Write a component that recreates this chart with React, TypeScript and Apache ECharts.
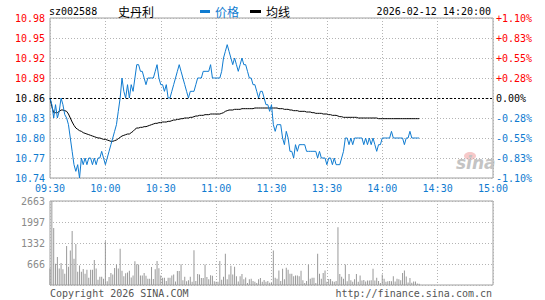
import React, { useEffect, useRef } from "react";
import * as echarts from "echarts";

const stockCode = "sz002588";
const stockName = "史丹利";
const timestamp = "2026-02-12 14:20:00";
const prevClose = 10.86;
const timeLabels = ["09:30", "10:00", "10:30", "11:00", "11:30", "13:30", "14:00", "14:30", "15:00"];

const price = [
  10.86, 10.85, 10.83, 10.85, 10.83, 10.84, 10.86, 10.85, 10.835, 10.83,
  10.82, 10.80, 10.78, 10.76, 10.75, 10.76, 10.74, 10.77, 10.76, 10.77,
  10.76, 10.77, 10.77, 10.76, 10.77, 10.76, 10.77, 10.77, 10.78, 10.77,
  10.76, 10.77, 10.78, 10.79, 10.80, 10.81, 10.82, 10.84, 10.86, 10.89,
  10.87, 10.86, 10.88, 10.86, 10.88, 10.87, 10.89, 10.91, 10.91, 10.90,
  10.90, 10.89, 10.88, 10.89, 10.89, 10.89, 10.89, 10.90, 10.91, 10.89,
  10.88, 10.88, 10.87, 10.88, 10.86, 10.86, 10.87, 10.88, 10.89, 10.90,
  10.91, 10.90, 10.89, 10.88, 10.87, 10.86, 10.87, 10.87, 10.87, 10.88,
  10.89, 10.89, 10.89, 10.90, 10.90, 10.90, 10.90, 10.91, 10.89, 10.89,
  10.89, 10.89, 10.89, 10.90, 10.92, 10.93, 10.94, 10.93, 10.92, 10.91,
  10.92, 10.91, 10.90, 10.91, 10.92, 10.91, 10.91, 10.90, 10.89, 10.89,
  10.88, 10.88, 10.87, 10.86, 10.87, 10.87, 10.86, 10.85, 10.85, 10.84,
  10.85, 10.82, 10.81, 10.82, 10.82, 10.82, 10.80, 10.79, 10.81, 10.80,
  10.78, 10.78, 10.77, 10.79, 10.78, 10.79, 10.79, 10.79, 10.79, 10.78,
  10.78, 10.78, 10.78, 10.78, 10.78, 10.77, 10.78, 10.77, 10.77, 10.77,
  10.76, 10.77, 10.77, 10.76, 10.77, 10.76, 10.76, 10.76, 10.77, 10.78,
  10.80, 10.80, 10.79, 10.80, 10.79, 10.80, 10.80, 10.80, 10.80, 10.80,
  10.79, 10.80, 10.79, 10.80, 10.79, 10.80, 10.79, 10.78, 10.79, 10.79,
  10.80, 10.80, 10.80, 10.80, 10.80, 10.81, 10.80, 10.80, 10.80, 10.80,
  10.80, 10.80, 10.79, 10.80, 10.80, 10.81, 10.80, 10.80, 10.80, 10.80,
  10.80,
];

const avgPrice = [
  10.860, 10.847, 10.838, 10.838, 10.838, 10.840, 10.842, 10.842, 10.841, 10.840,
  10.836, 10.830, 10.824, 10.819, 10.815, 10.813, 10.811, 10.810, 10.808, 10.807,
  10.806, 10.805, 10.804, 10.803, 10.802, 10.801, 10.800, 10.800, 10.799, 10.798,
  10.798, 10.797, 10.796, 10.795, 10.795, 10.796, 10.797, 10.799, 10.801, 10.803,
  10.804, 10.805, 10.806, 10.806, 10.808, 10.810, 10.813, 10.815, 10.815, 10.816,
  10.816, 10.817, 10.817, 10.818, 10.819, 10.820, 10.821, 10.822, 10.822, 10.823,
  10.823, 10.824, 10.824, 10.824, 10.825, 10.825, 10.826, 10.827, 10.827, 10.828,
  10.828, 10.829, 10.829, 10.830, 10.830, 10.830, 10.831, 10.831, 10.832, 10.833,
  10.833, 10.834, 10.834, 10.834, 10.835, 10.835, 10.835, 10.836, 10.836, 10.836,
  10.836, 10.836, 10.836, 10.837, 10.838, 10.840, 10.841, 10.842, 10.842, 10.842,
  10.843, 10.843, 10.843, 10.843, 10.844, 10.844, 10.844, 10.844, 10.844, 10.844,
  10.844, 10.845, 10.845, 10.845, 10.845, 10.845, 10.845, 10.845, 10.845, 10.845,
  10.845, 10.845, 10.845, 10.845, 10.844, 10.844, 10.844, 10.843, 10.843, 10.843,
  10.842, 10.842, 10.841, 10.841, 10.841, 10.840, 10.840, 10.840, 10.840, 10.839,
  10.839, 10.839, 10.838, 10.838, 10.837, 10.837, 10.837, 10.837, 10.836, 10.836,
  10.836, 10.835, 10.835, 10.834, 10.834, 10.834, 10.833, 10.832, 10.832, 10.831,
  10.831, 10.831, 10.831, 10.831, 10.831, 10.831, 10.831, 10.830, 10.830, 10.830,
  10.830, 10.830, 10.830, 10.830, 10.830, 10.830, 10.830, 10.830, 10.829, 10.829,
  10.829, 10.829, 10.829, 10.829, 10.829, 10.829, 10.829, 10.829, 10.829, 10.829,
  10.829, 10.829, 10.829, 10.829, 10.829, 10.829, 10.829, 10.829, 10.829, 10.829,
  10.829,
];

const volume = [
  526, 2663, 1810, 670, 890, 520, 700, 500, 360, 1240,
  580, 1090, 1710, 830, 1300, 420, 620, 420, 510, 360,
  480, 230, 480, 480, 790, 520, 170, 260, 260, 200,
  1390, 120, 250, 380, 330, 540, 650, 520, 1150, 450,
  280, 370, 400, 450, 240, 300, 750, 660, 650, 300,
  300, 380, 290, 200, 200, 570, 190, 500, 760, 530,
  300, 230, 230, 130, 230, 230, 300, 330, 110, 440,
  440, 660, 150, 260, 120, 150, 260, 100, 1100, 130,
  350, 330, 220, 220, 650, 250, 180, 310, 290, 120,
  100, 100, 760, 170, 260, 990, 180, 330, 610, 330,
  580, 280, 110, 280, 350, 180, 240, 60, 180, 200,
  130, 100, 60, 180, 220, 100, 160, 100, 130, 70,
  60, 1090, 230, 200, 460, 130, 515, 180, 550, 480,
  360, 360, 280, 300, 300, 280, 450, 150, 60, 130,
  640, 200, 230, 230, 60, 990, 360, 200, 380, 460,
  100, 190, 190, 120, 100, 130, 1830, 350, 260, 200,
  650, 120, 350, 150, 100, 180, 350, 100, 300, 140,
  160, 110, 140, 140, 150, 515, 140, 230, 130, 60,
  330, 200, 100, 120, 130, 120, 280, 110, 200, 180,
  150, 380, 460, 270, 80, 220, 70, 110, 110, 50,
  40,
];

const volumeMax = 2663;

const BLUE = "#0f7bd0";
const RED = "#ff0000";
const MONO = "DejaVu Sans Mono";
const CJK = "Noto Sans CJK SC";

export default function App() {
  const ref = useRef<HTMLDivElement>(null);

  useEffect(() => {
    if (!ref.current) return;
    const chart = echarts.init(ref.current, null, { renderer: "svg" });

    const dotted = { show: true, lineStyle: { color: "#b4b4b4", type: [1, 2] as any, width: 1 } };
    const gridL = 50;
    const gridR = 52;

    const option: any = {
      animation: false,
      backgroundColor: "#ffffff",
      grid: [
        { left: gridL, right: gridR, top: 18, height: 160, show: true, borderColor: "#a0a0a0", borderWidth: 1, backgroundColor: "transparent" },
        { left: gridL, right: gridR, top: 201, height: 84, show: true, borderColor: "#a0a0a0", borderWidth: 1, backgroundColor: "transparent" },
      ],
      xAxis: [
        {
          type: "value", gridIndex: 0, min: 0, max: 240, interval: 30,
          axisLine: { show: false }, axisTick: { show: false },
          splitLine: dotted,
          axisLabel: {
            margin: 5, color: BLUE, fontSize: 10, fontFamily: MONO,
            formatter: (v: number) => timeLabels[Math.round(v / 30)] ?? "",
          },
        },
        {
          type: "value", gridIndex: 1, min: 0, max: 240, interval: 30,
          axisLine: { show: false }, axisTick: { show: false },
          splitLine: dotted, axisLabel: { show: false },
        },
      ],
      yAxis: [
        {
          type: "value", gridIndex: 0, min: 10.74, max: 10.98, interval: 0.03,
          axisLine: { show: false }, axisTick: { show: false },
          splitLine: dotted,
          axisLabel: {
            margin: 5, fontSize: 10, fontFamily: MONO,
            formatter: (v: number) => {
              const s = v.toFixed(2);
              if (Math.abs(v - prevClose) < 0.001) return "{k|" + s + "}";
              return (v > prevClose ? "{r|" : "{b|") + s + "}";
            },
            rich: {
              r: { color: RED, fontSize: 10, fontFamily: MONO },
              b: { color: BLUE, fontSize: 10, fontFamily: MONO },
              k: { color: "#000", fontSize: 10, fontFamily: MONO },
            },
          },
        },
        {
          type: "value", gridIndex: 0, min: 10.74, max: 10.98, interval: 0.03, position: "right",
          axisLine: { show: false }, axisTick: { show: false }, splitLine: { show: false },
          axisLabel: {
            margin: 3, fontSize: 10, fontFamily: MONO,
            formatter: (v: number) => {
              const d = ((v - prevClose) / prevClose) * 100;
              if (Math.abs(d) < 0.001) return "{k|0.00%}";
              return d > 0 ? "{r|+" + d.toFixed(2) + "%}" : "{b|-" + Math.abs(d).toFixed(2) + "%}";
            },
            rich: {
              r: { color: RED, fontSize: 10, fontFamily: MONO },
              b: { color: BLUE, fontSize: 10, fontFamily: MONO },
              k: { color: "#000", fontSize: 10, fontFamily: MONO },
            },
          },
        },
        {
          type: "value", gridIndex: 1, min: 0, max: volumeMax, interval: volumeMax / 4,
          axisLine: { show: false }, axisTick: { show: false },
          splitLine: dotted,
          axisLabel: {
            margin: 5, fontSize: 10, fontFamily: MONO, color: "#8a8a8a",
            formatter: (v: number) => (v === 0 ? "" : String(Math.round(v))),
          },
        },
      ],
      series: [
        {
          type: "line", xAxisIndex: 0, yAxisIndex: 0, showSymbol: false, symbol: "none",
          data: avgPrice.map((p, i) => [i, p]),
          lineStyle: { color: "#000", width: 1 }, z: 3,
          markLine: {
            silent: true, symbol: "none", label: { show: false },
            lineStyle: { color: "#000", type: [2, 2], width: 1 },
            data: [{ yAxis: prevClose }],
          },
        },
        {
          type: "line", xAxisIndex: 0, yAxisIndex: 0, showSymbol: false, symbol: "none",
          data: price.map((p, i) => [i, p]),
          lineStyle: { color: BLUE, width: 1 }, z: 4,
        },
        {
          type: "bar", xAxisIndex: 1, yAxisIndex: 2, barWidth: 1,
          data: volume.map((v, i) => [i, v]),
          itemStyle: { color: "#999999" },
        },
      ],
      graphic: [
        { type: "text", left: 49, top: 6, style: { text: stockCode, fill: "#000", font: "10px " + MONO } },
        { type: "text", left: 118, top: 5, style: { text: stockName, fill: "#000", font: "12px '" + CJK + "'" } },
        { type: "rect", shape: { x: 200, y: 10, width: 10, height: 3 }, style: { fill: BLUE } },
        { type: "text", left: 215, top: 5, style: { text: "价格", fill: BLUE, font: "12px '" + CJK + "'" } },
        { type: "rect", shape: { x: 250, y: 10, width: 11, height: 3 }, style: { fill: "#000" } },
        { type: "text", left: 266, top: 5, style: { text: "均线", fill: "#000", font: "12px '" + CJK + "'" } },
        { type: "text", right: 54, top: 6, style: { text: timestamp, fill: "#000", font: "10px " + MONO } },
        { type: "text", left: 50, top: 288, style: { text: "Copyright 2026 SINA.COM", fill: "#555", font: "10px " + MONO } },
        { type: "text", right: 53, top: 288, style: { text: "http://finance.sina.com.cn", fill: "#555", font: "10px " + MONO } },
        { type: "ellipse", shape: { cx: 470, cy: 156, rx: 6, ry: 4 }, style: { fill: "#f6c9c9" } },
        { type: "text", left: 456, top: 154, style: { text: "sina", fill: "#c4c4c4", font: "italic bold 17px 'DejaVu Sans'" } },
      ],
    };

    chart.setOption(option);
    return () => chart.dispose();
  }, []);

  return (
    <div
      ref={ref}
      style={{ position: "absolute", left: 0, top: 0, width: 545, height: 300, background: "#fff" }}
    />
  );
}
